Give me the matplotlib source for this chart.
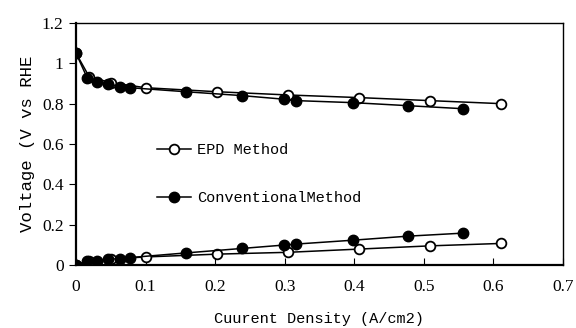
import matplotlib
matplotlib.use("Agg")
import matplotlib.pyplot as plt
from matplotlib.ticker import FuncFormatter

# EPD method (open circles)
epd_x_high = [0, 0.019, 0.05, 0.10, 0.203, 0.305, 0.407, 0.509, 0.611]
epd_v_high = [1.05, 0.933, 0.904, 0.879, 0.859, 0.843, 0.830, 0.815, 0.800]
epd_x_low = [0, 0.019, 0.05, 0.10, 0.203, 0.305, 0.407, 0.509, 0.611]
epd_v_low = [0, 0.020, 0.030, 0.040, 0.054, 0.063, 0.079, 0.095, 0.107]

# Conventional method (filled circles)
conv_x_high = [0, 0.016, 0.030, 0.046, 0.063, 0.078, 0.158, 0.238, 0.299, 0.317, 0.398, 0.477, 0.556]
conv_v_high = [1.05, 0.928, 0.905, 0.899, 0.885, 0.879, 0.859, 0.840, 0.822, 0.815, 0.805, 0.790, 0.775]
conv_x_low = [0, 0.016, 0.030, 0.046, 0.063, 0.078, 0.158, 0.238, 0.299, 0.317, 0.398, 0.477, 0.556]
conv_v_low = [0, 0.020, 0.022, 0.028, 0.032, 0.037, 0.060, 0.082, 0.099, 0.104, 0.123, 0.143, 0.158]

x_ticks = [0, 0.1, 0.2, 0.3, 0.4, 0.5, 0.6, 0.7]
y_ticks = [0, 0.2, 0.4, 0.6, 0.8, 1.0, 1.2]

label_font = "Liberation Mono"
tick_font = "Liberation Serif"

fig = plt.figure(figsize=(5.76, 3.28), dpi=100)
ax = fig.add_axes([0.132, 0.192, 0.845, 0.738])

ms = 7
lw = 1.1
ax.plot(epd_x_high, epd_v_high, "-o", color="black", mfc="white", mec="black",
        ms=ms, mew=1.3, lw=lw, zorder=3)
ax.plot(epd_x_low, epd_v_low, "-o", color="black", mfc="white", mec="black",
        ms=ms, mew=1.3, lw=lw, zorder=3, label="EPD Method")
ax.plot(conv_x_high, conv_v_high, "-o", color="black", mfc="black", mec="black",
        ms=ms + 0.5, lw=lw, zorder=4)
ax.plot(conv_x_low, conv_v_low, "-o", color="black", mfc="black", mec="black",
        ms=ms + 0.5, lw=lw, zorder=4, label="ConventionalMethod")

ax.set_xlim(0, 0.7)
ax.set_ylim(0, 1.2)
ax.set_xticks(x_ticks)
ax.set_yticks(y_ticks)
fmt = FuncFormatter(lambda v, p: "%g" % round(v, 2))
ax.xaxis.set_major_formatter(fmt)
ax.yaxis.set_major_formatter(fmt)
ax.tick_params(axis="x", direction="in", length=5, pad=10, labelsize=12.5)
ax.tick_params(axis="y", direction="out", length=5, pad=4, labelsize=12.5)
for lab in ax.get_xticklabels() + ax.get_yticklabels():
    lab.set_fontfamily(tick_font)

for sp in ax.spines.values():
    sp.set_linewidth(1.0)
ax.spines["bottom"].set_linewidth(1.6)
ax.spines["left"].set_linewidth(1.6)

ax.set_xlabel("Cuurent Density (A/cm2)", fontfamily=label_font, fontsize=11, labelpad=12)
ax.set_ylabel("Voltage (V vs RHE", fontfamily=label_font, fontsize=12.5, labelpad=5)

leg = ax.legend(loc="center left",
                bbox_to_anchor=(0.167, 0.375), frameon=False,
                prop={"family": label_font, "size": 11},
                handlelength=2.2, handletextpad=0.4, labelspacing=2.2,
                borderpad=0, borderaxespad=0)

fig.savefig("out.png", dpi=100)
